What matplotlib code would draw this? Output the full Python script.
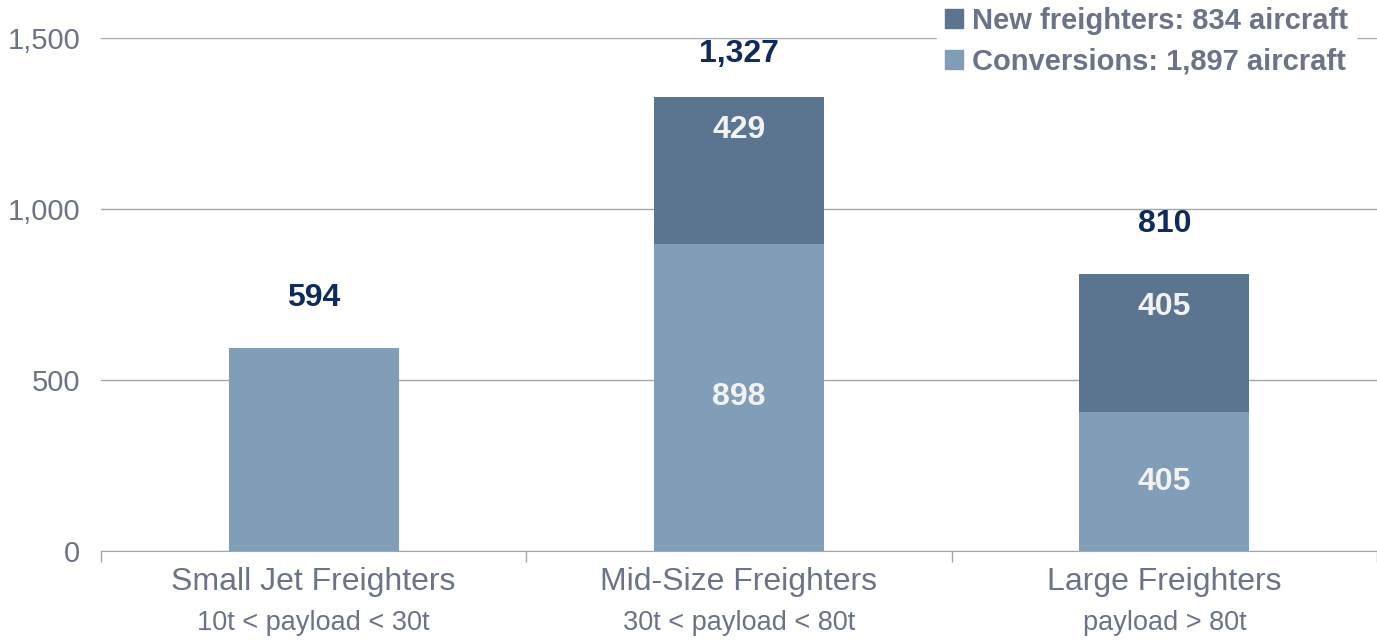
import matplotlib.pyplot as plt
from matplotlib.patches import Patch
from matplotlib.transforms import blended_transform_factory

plt.rcParams['font.family'] = ['Liberation Sans', 'DejaVu Sans']

categories = ["Small Jet Freighters", "Mid-Size Freighters", "Large Freighters"]
subtitles = ["10t < payload < 30t", "30t < payload < 80t", "payload > 80t"]
conversions = [594, 898, 405]
new_freighters = [0, 429, 405]
totals = [594, 1327, 810]
legend_labels = ["New freighters: 834 aircraft", "Conversions: 1,897 aircraft"]

DARK = "#5b7590"
LIGHT = "#819eb8"
NAVY = "#0f2a5c"
GREY_TXT = "#6b7388"
GRID = "#a3a6ad"

fig = plt.figure(figsize=(13.77, 6.41), dpi=100)
ax = fig.add_axes([0.0733, 0.1404, 0.9267, 0.8003])

x = list(range(len(categories)))
ax.bar(x, conversions, width=0.4, color=LIGHT, zorder=3)
ax.bar(x, new_freighters, width=0.4, bottom=conversions, color=DARK, zorder=3)

ax.set_xlim(-0.5, 2.5)
ax.set_ylim(0, 1500)
ax.set_yticks([0, 500, 1000, 1500])
ax.set_yticklabels(["0", "500", "1,000", "1,500"])
ax.tick_params(axis='y', length=0, pad=15, labelsize=21, labelcolor=GREY_TXT)
ax.yaxis.grid(True, color=GRID, linewidth=1, zorder=0)
ax.set_xticks([-0.5, 0.5, 1.5, 2.5])
ax.set_xticklabels([])
ax.tick_params(axis='x', length=8, color=GRID, width=1)
for s in ['left', 'right', 'top']:
    ax.spines[s].set_visible(False)
ax.spines['bottom'].set_color(GRID)
ax.spines['bottom'].set_zorder(4)

tr = blended_transform_factory(ax.transData, ax.transAxes)
for i in x:
    ax.text(i, -0.06, categories[i], transform=tr, ha='center', va='center',
            fontsize=23, color=GREY_TXT)
    ax.text(i, -0.14, subtitles[i], transform=tr, ha='center', va='center',
            fontsize=19.5, color=GREY_TXT)
    off = 31 if totals[i] > 1200 else 36
    ax.annotate(f"{totals[i]:,}", (i, totals[i]), xytext=(0, off),
                textcoords='offset points', ha='center', va='center',
                fontsize=23, fontweight='bold', color=NAVY, annotation_clip=False)
    if new_freighters[i] > 0:
        ax.annotate(f"{new_freighters[i]:,}", (i, totals[i]), xytext=(0, -23.5),
                    textcoords='offset points', ha='center', va='center',
                    fontsize=23, fontweight='bold', color='#f2f2f2', zorder=5)
        ax.text(i, conversions[i] / 2, f"{conversions[i]:,}", ha='center', va='center',
                fontsize=23, fontweight='bold', color='#f2f2f2', zorder=5)

handles = [Patch(color=DARK), Patch(color=LIGHT)]
leg = fig.legend(handles, legend_labels, loc='upper right', bbox_to_anchor=(0.985, 1.003),
                 frameon=True, facecolor='white', edgecolor='white', framealpha=1,
                 fontsize=21, handlelength=0.6, handleheight=0.6, handletextpad=0.3,
                 labelspacing=0.45, borderpad=0.3, borderaxespad=0)
for t in leg.get_texts():
    t.set_color(GREY_TXT)
    t.set_fontweight('bold')
leg.set_zorder(10)

fig.savefig("out.png", dpi=100)
